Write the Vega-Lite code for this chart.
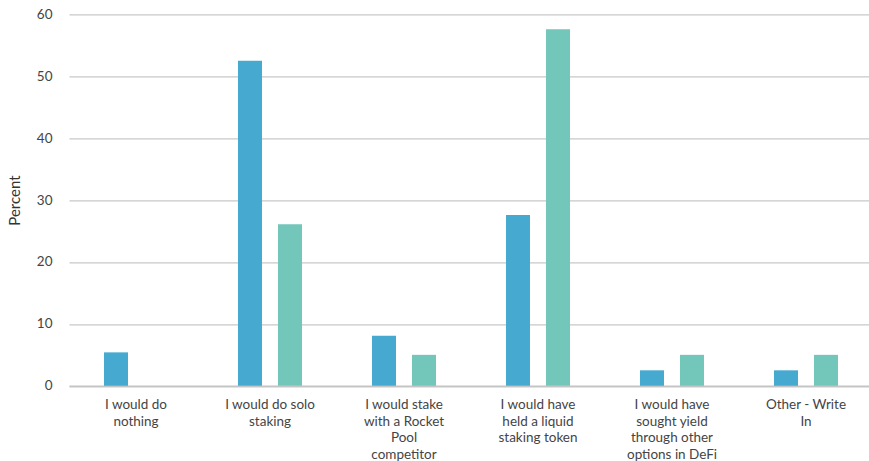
{
  "$schema": "https://vega.github.io/schema/vega-lite/v6.json",
  "width": 804,
  "height": 371.5,
  "autosize": "none",
  "padding": {"left": 69, "top": 14.3, "right": 0, "bottom": 75},
  "background": "white",
  "data": {
    "values": [
      {"answer": "I would do nothing", "series": "Series 1", "percent": 5.4},
      {"answer": "I would do nothing", "series": "Series 2", "percent": 0},
      {"answer": "I would do solo staking", "series": "Series 1", "percent": 52.5},
      {"answer": "I would do solo staking", "series": "Series 2", "percent": 26.1},
      {"answer": "I would stake with a Rocket Pool competitor", "series": "Series 1", "percent": 8.1},
      {"answer": "I would stake with a Rocket Pool competitor", "series": "Series 2", "percent": 5.0},
      {"answer": "I would have held a liquid staking token", "series": "Series 1", "percent": 27.6},
      {"answer": "I would have held a liquid staking token", "series": "Series 2", "percent": 57.6},
      {"answer": "I would have sought yield through other options in DeFi", "series": "Series 1", "percent": 2.5},
      {"answer": "I would have sought yield through other options in DeFi", "series": "Series 2", "percent": 5.0},
      {"answer": "Other - Write In", "series": "Series 1", "percent": 2.5},
      {"answer": "Other - Write In", "series": "Series 2", "percent": 5.0}
    ]
  },
  "config": {
    "view": {"stroke": null},
    "font": "Lato"
  },
  "mark": {"type": "bar"},
  "encoding": {
    "x": {
      "field": "answer",
      "type": "nominal",
      "sort": null,
      "scale": {"paddingInner": 0, "paddingOuter": 0},
      "axis": {
        "title": null,
        "labelAngle": 0,
        "ticks": false,
        "domain": true,
        "domainColor": "#c4c4c4",
        "domainWidth": 1.5,
        "labelPadding": 12,
        "labelFontSize": 13.5,
        "labelColor": "#444444",
        "labelLineHeight": 16.5,
        "labelExpr": "datum.value == 'I would do nothing' ? ['I would do', 'nothing'] : datum.value == 'I would do solo staking' ? ['I would do solo', 'staking'] : datum.value == 'I would stake with a Rocket Pool competitor' ? ['I would stake', 'with a Rocket', 'Pool', 'competitor'] : datum.value == 'I would have held a liquid staking token' ? ['I would have', 'held a liquid', 'staking token'] : datum.value == 'I would have sought yield through other options in DeFi' ? ['I would have', 'sought yield', 'through other', 'options in DeFi'] : ['Other - Write', 'In']"
      }
    },
    "xOffset": {
      "field": "series",
      "type": "nominal",
      "scale": {"paddingInner": 0.4, "paddingOuter": 0.875}
    },
    "y": {
      "field": "percent",
      "type": "quantitative",
      "scale": {"domain": [0, 60], "nice": false},
      "axis": {
        "title": "Percent",
        "titleFontSize": 15,
        "titleFontWeight": "normal",
        "titleColor": "#333333",
        "titlePadding": 14,
        "values": [0, 10, 20, 30, 40, 50, 60],
        "domain": false,
        "ticks": false,
        "labelPadding": 17,
        "labelFontSize": 13.5,
        "labelColor": "#444444",
        "gridColor": "#c8c8c8",
        "gridWidth": 1.2
      }
    },
    "color": {
      "field": "series",
      "type": "nominal",
      "scale": {"range": ["#46A9D0", "#72C6BA"]},
      "legend": null
    }
  }
}
